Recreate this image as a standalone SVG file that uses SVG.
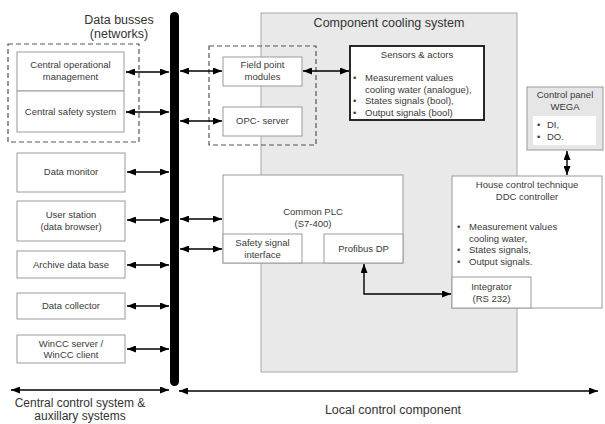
<svg xmlns="http://www.w3.org/2000/svg" width="605" height="424" viewBox="0 0 605 424">
  <style>
    text { font-family: "Liberation Sans", Arial, sans-serif; fill: #3a3a3a; }
    .lbl { font-size: 9.5px; text-anchor: middle; }
    .bul { font-size: 9.5px; }
    .big { font-size: 12.5px; text-anchor: middle; fill: #333; }
    .foot { font-size: 12px; text-anchor: middle; fill: #333; }
    .box { fill: #fff; stroke: #9a9a9a; stroke-width: 1; }
    .dash { fill: none; stroke: #555; stroke-width: 1.2; stroke-dasharray: 5 3; }
    .link { fill: none; stroke: #000; stroke-width: 1.4; marker-start: url(#ah); marker-end: url(#ah); }
  </style>
  <defs>
    <marker id="ah" markerUnits="userSpaceOnUse" markerWidth="9" markerHeight="7" refX="9" refY="3.5" orient="auto-start-reverse">
      <path d="M0,0 L9,3.5 L0,7 z" fill="#000"/>
    </marker>
  </defs>

  <rect width="605" height="424" fill="#fff"/>

  <!-- local area -->
  <g id="cooling-system">
    <rect x="261" y="13" width="256" height="359" fill="#e9e9e9" stroke="#a8a8a8"/>
    <text class="big" x="389" y="27">Component cooling system</text>
  </g>

  <!-- network backbone -->
  <g id="data-bus">
    <rect x="170" y="12" width="9" height="374" rx="4.5" fill="#000"/>
    <text class="big" x="119" y="24">Data busses</text>
    <text class="big" x="119" y="38">(networks)</text>
  </g>

  <!-- central group -->
  <g id="central-group">
    <rect class="dash" x="8" y="44" width="131" height="98"/>
  </g>
  <g id="central-operational">
    <rect class="box" x="17" y="52" width="107" height="39"/>
    <text class="lbl" x="70.5" y="68">Central operational</text>
    <text class="lbl" x="70.5" y="80">management</text>
  </g>
  <g id="central-safety">
    <rect class="box" x="17" y="91" width="107" height="41"/>
    <text class="lbl" x="70.5" y="115">Central safety system</text>
  </g>
  <g id="data-monitor">
    <rect class="box" x="17" y="153" width="108" height="39"/>
    <text class="lbl" x="71" y="175">Data monitor</text>
  </g>
  <g id="user-station">
    <rect class="box" x="17" y="201" width="108" height="40"/>
    <text class="lbl" x="71" y="218">User station</text>
    <text class="lbl" x="71" y="230">(data browser)</text>
  </g>
  <g id="archive">
    <rect class="box" x="17" y="251" width="108" height="27"/>
    <text class="lbl" x="71" y="268">Archive data base</text>
  </g>
  <g id="data-collector">
    <rect class="box" x="17" y="293" width="108" height="26"/>
    <text class="lbl" x="71" y="309">Data collector</text>
  </g>
  <g id="wincc">
    <rect class="box" x="17" y="335" width="108" height="28"/>
    <text class="lbl" x="71" y="347">WinCC server /</text>
    <text class="lbl" x="71" y="358">WinCC client</text>
  </g>

  <!-- field group -->
  <g id="field-group">
    <rect class="dash" x="209" y="46" width="107" height="99"/>
  </g>
  <g id="field-point">
    <rect class="box" x="223" y="57" width="79" height="29"/>
    <text class="lbl" x="262.5" y="68">Field point</text>
    <text class="lbl" x="262.5" y="80">modules</text>
  </g>
  <g id="opc-server">
    <rect class="box" x="223" y="107" width="79" height="29"/>
    <text class="lbl" x="262.5" y="124">OPC- server</text>
  </g>

  <g id="sensors">
    <rect x="350" y="46" width="134" height="74" fill="#fff" stroke="#111" stroke-width="1.8"/>
    <text class="lbl" x="417" y="58">Sensors &amp; actors</text>
    <text class="bul" x="353" y="81">•</text>
    <text class="bul" x="365" y="81">Measurement values</text>
    <text class="bul" x="365" y="93">cooling water (analogue),</text>
    <text class="bul" x="353" y="104">•</text>
    <text class="bul" x="365" y="104">States signals (bool),</text>
    <text class="bul" x="353" y="116">•</text>
    <text class="bul" x="365" y="116">Output signals (bool)</text>
  </g>

  <g id="control-panel">
    <rect x="527" y="87" width="76" height="63" fill="#e6e6e6" stroke="#999"/>
    <text class="lbl" x="565" y="98">Control panel</text>
    <text class="lbl" x="565" y="110">WEGA</text>
    <rect x="533" y="116" width="63" height="29" fill="#fff"/>
    <text class="bul" x="537" y="128">•</text>
    <text class="bul" x="547" y="128">DI,</text>
    <text class="bul" x="537" y="140">•</text>
    <text class="bul" x="547" y="140">DO.</text>
  </g>

  <g id="common-plc">
    <rect class="box" x="223" y="175" width="180" height="88"/>
    <text class="lbl" x="313" y="215">Common PLC</text>
    <text class="lbl" x="313" y="227">(S7-400)</text>
  </g>
  <g id="safety-interface">
    <rect class="box" x="223" y="234" width="79" height="29"/>
    <text class="lbl" x="262.5" y="246">Safety signal</text>
    <text class="lbl" x="262.5" y="258">interface</text>
  </g>
  <g id="profibus">
    <rect class="box" x="324" y="234" width="79" height="29"/>
    <text class="lbl" x="363.5" y="252">Profibus DP</text>
  </g>

  <g id="house-control">
    <rect class="box" x="452" y="176" width="150" height="132"/>
    <text class="lbl" x="527" y="188">House control technique</text>
    <text class="lbl" x="527" y="200">DDC controller</text>
    <text class="bul" x="457" y="230">•</text>
    <text class="bul" x="469" y="230">Measurement values</text>
    <text class="bul" x="469" y="242">cooling water,</text>
    <text class="bul" x="457" y="253">•</text>
    <text class="bul" x="469" y="253">States signals,</text>
    <text class="bul" x="457" y="265">•</text>
    <text class="bul" x="469" y="265">Output signals.</text>
  </g>
  <g id="integrator">
    <rect class="box" x="452" y="277" width="79" height="31"/>
    <text class="lbl" x="491.5" y="290">Integrator</text>
    <text class="lbl" x="491.5" y="302">(RS 232)</text>
  </g>

  <!-- connectors -->
  <g id="connectors">
    <line class="link" x1="126" y1="72" x2="169" y2="72"/>
    <line class="link" x1="126" y1="112" x2="169" y2="112"/>
    <line class="link" x1="127" y1="172" x2="169" y2="172"/>
    <line class="link" x1="127" y1="220" x2="169" y2="220"/>
    <line class="link" x1="127" y1="265" x2="169" y2="265"/>
    <line class="link" x1="127" y1="306" x2="169" y2="306"/>
    <line class="link" x1="127" y1="349" x2="169" y2="349"/>

    <line class="link" x1="180" y1="71" x2="222" y2="71"/>
    <line class="link" x1="180" y1="121" x2="222" y2="121"/>
    <line class="link" x1="180" y1="219" x2="222" y2="219"/>
    <line class="link" x1="180" y1="249" x2="222" y2="249"/>

    <line class="link" x1="303" y1="71" x2="349" y2="71"/>
    <line class="link" x1="567" y1="151" x2="567" y2="175"/>
    <polyline class="link" points="364,264 364,294 451,294"/>

    <line class="link" x1="11" y1="390" x2="169" y2="390"/>
    <line class="link" x1="179" y1="391" x2="598" y2="391"/>
  </g>

  <g id="region-labels">
    <text class="foot" x="80" y="407">Central control system &amp;</text>
    <text class="foot" x="80" y="420">auxillary systems</text>
    <text class="big" x="393" y="414">Local control component</text>
  </g>
</svg>
